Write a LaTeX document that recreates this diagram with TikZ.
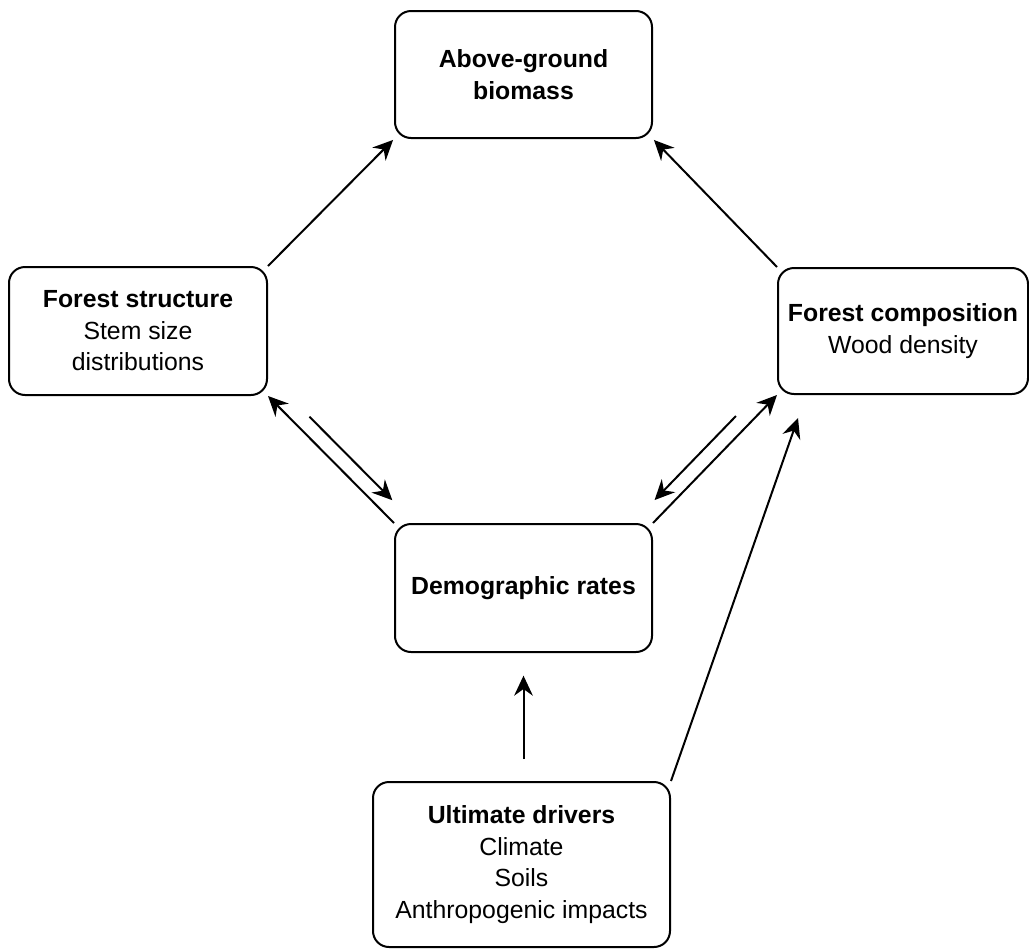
\documentclass[tikz,border=0pt]{standalone}
\usepackage{fontspec}
\setmainfont{Liberation Sans}
\usetikzlibrary{arrows.meta}

\begin{document}
\begin{tikzpicture}[x=0.75pt,y=-0.75pt,
    box/.style={draw, line width=1.5pt, rounded corners=12pt, align=center,
                inner sep=0pt, font=\fontsize{18.6}{23.6}\selectfont},
    link/.style={line width=1.5pt, -{Stealth[length=15pt,width=14pt,inset=5pt]}}]
% \clip (0,0) rectangle (1029,950);
\useasboundingbox (0,0) rectangle (1029,950);

% Drawing boxes
\node[box, minimum width=192.75pt, minimum height=95.25pt] (bio) at (523.5,74.5) {\textbf{Above-ground}\\\textbf{biomass}};%
\node[box, minimum width=193.5pt, minimum height=96pt] (struct) at (138,331) {\textbf{Forest structure}\\Stem size\\distributions};%
\node[box, minimum width=187.5pt, minimum height=94.5pt] (comp) at (903,331) {\textbf{Forest composition}\\Wood density};%
\node[box, minimum width=192.75pt, minimum height=96pt] (demo) at (523.5,588) {\textbf{Demographic rates}};%
\node[box, minimum width=222.75pt, minimum height=123.75pt] (driv) at (521.5,864.5) {\textbf{Ultimate drivers}\\Climate\\Soils\\Anthropogenic impacts};%

% Drawing arrows to biomass
\draw[link, shorten >=1pt] (struct.north east) -- (bio.south west);%
\draw[link, shorten >=1pt] (comp.north west) -- (bio.south east);%

% Drawing arrows around demographic rates
\draw[link] (demo.north west) -- (struct.south east);%
\draw[link, shorten <=33pt, shorten >=13pt] ([shift={(10.5,-10.5)}]struct.south east) -- ([shift={(10.5,-10.5)}]demo.north west);%
\draw[link] (demo.north east) -- (comp.south west);%
\draw[link, shorten <=33pt, shorten >=13pt] ([shift={(-10.5,-10.5)}]comp.south west) -- ([shift={(-10.5,-10.5)}]demo.north east);%

% Drawing arrows from drivers
\draw[link] (driv.north east) -- ([shift={(21,23)}]comp.south west);%
\draw[link, shorten <=16.5pt, shorten >=17pt] (demo.south |- driv.north) -- (demo.south);%
\end{tikzpicture}
\end{document}
